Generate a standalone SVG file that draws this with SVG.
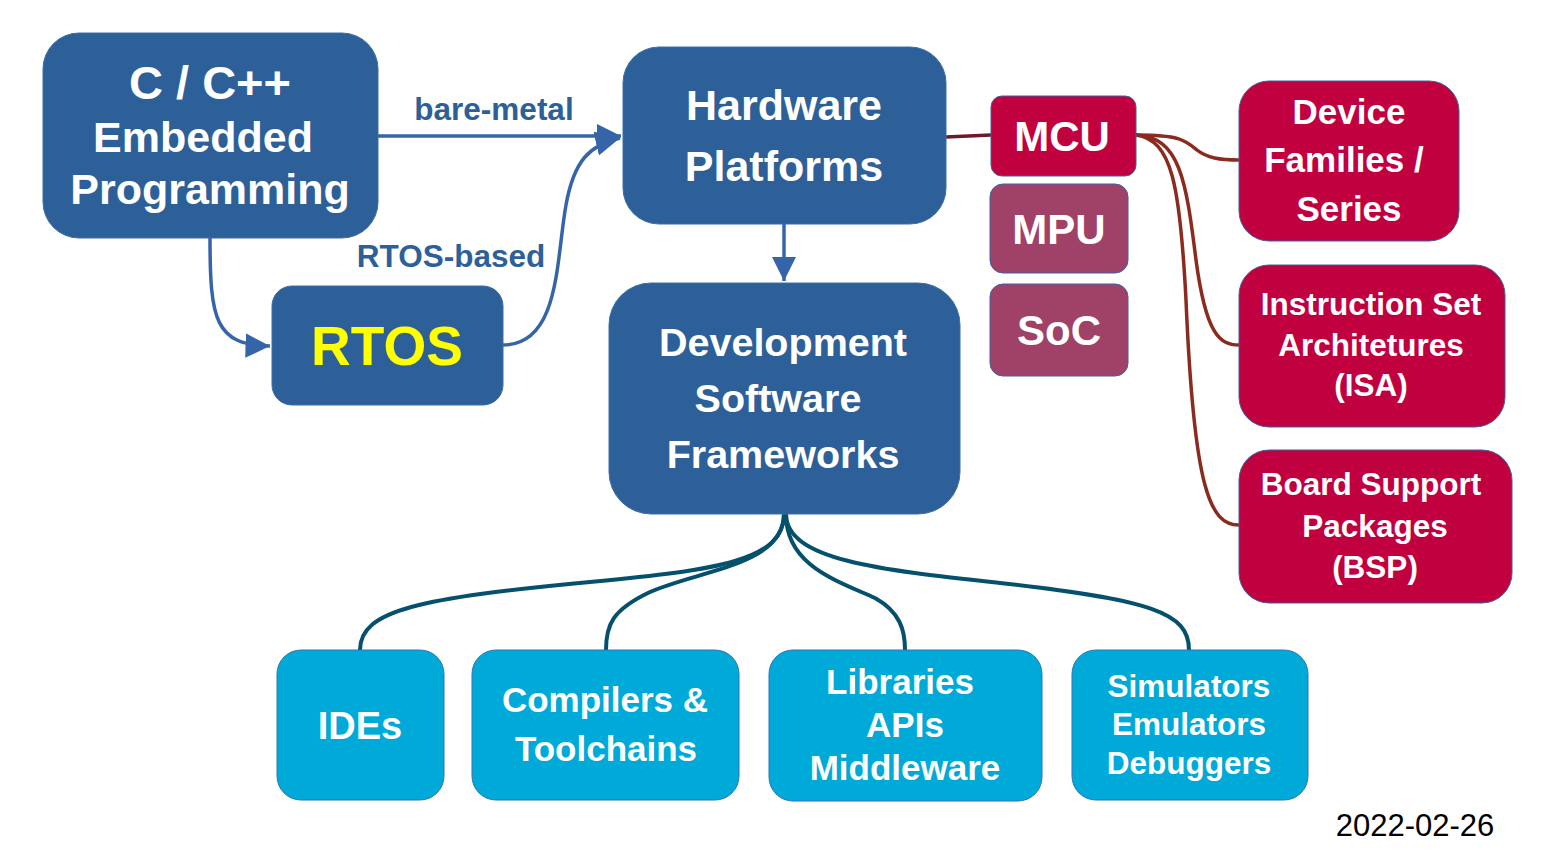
<svg xmlns="http://www.w3.org/2000/svg" width="1555" height="860" viewBox="0 0 1555 860">
  <defs>
    <style>
      .t { font-family: "Liberation Sans", Arial, sans-serif; font-weight: bold; text-anchor: middle; fill: #ffffff; }
      .blue { fill: #2d6099; stroke: #3a6ea8; stroke-width: 1; }
      .red { fill: #c0003f; stroke: #3f62a0; stroke-width: 1; }
      .plum { fill: #a04168; stroke: #3f62a0; stroke-width: 1; }
      .cyan { fill: #00aad8; stroke: #2f74b5; stroke-width: 1; }
      .lbl { font-family: "Liberation Sans", Arial, sans-serif; font-weight: bold; text-anchor: middle; fill: #2d6099; }
      .arr { fill: none; stroke: #3565a8; stroke-width: 3.5; }
      .mcu { fill: none; stroke: #8b2a1e; stroke-width: 3.5; }
      .sw { fill: none; stroke: #05506c; stroke-width: 4; }
    </style>
    <marker id="ah" viewBox="0 0 10 10" refX="10" refY="5" markerWidth="7" markerHeight="7" markerUnits="strokeWidth" orient="auto">
      <path d="M0,0 L10,5 L0,10 Z" fill="#3565a8"/>
    </marker>
  </defs>

  <rect width="1555" height="860" fill="#ffffff"/>

  <!-- connectors -->
  <g id="connectors">
    <path class="arr" d="M378,136 L621,136" marker-end="url(#ah)"/>
    <path class="arr" d="M503,345 C560,345 556,260 566,205 C574,160 590,145 620,138" marker-end="url(#ah)"/>
    <path class="arr" d="M210,238 C210,320 215,345 270,346" marker-end="url(#ah)"/>
    <path class="arr" d="M784,224 L784,281" marker-end="url(#ah)"/>
    <path d="M946,137 L991,135" fill="none" stroke="#6b1a2a" stroke-width="3.5"/>
    <path class="mcu" d="M1136,135 C1180,135 1185,140 1197,150 C1207,158 1220,160 1239,160"/>
    <path class="mcu" d="M1136,135 C1180,137 1186,180 1196,260 C1206,335 1220,345 1239,345"/>
    <path class="mcu" d="M1136,135 C1172,140 1180,185 1186,300 C1194,490 1210,525 1239,525"/>
    <path class="sw" d="M784,514 C784,560 720,570 590,582 C420,598 360,610 360,650"/>
    <path class="sw" d="M784,514 C784,565 700,570 650,592 C612,610 606,625 606,650"/>
    <path class="sw" d="M786,514 C786,565 835,580 875,598 C900,612 905,630 905,650" stroke="#33506e"/>
    <path class="sw" d="M786,514 C786,560 880,570 1000,583 C1150,600 1189,612 1189,650"/>
  </g>

  <g id="label-bare-metal"><text class="lbl" x="494" y="120" font-size="31.5">bare-metal</text></g>
  <g id="label-rtos-based"><text class="lbl" x="451" y="267" font-size="31.5">RTOS-based</text></g>

  <g id="node-cpp">
    <rect class="blue" x="43" y="33" width="335" height="205" rx="36"/>
    <text class="t" font-size="47" x="210" y="99">C / C++</text>
    <text class="t" font-size="43" x="203" y="152">Embedded</text>
    <text class="t" font-size="43" x="210" y="204">Programming</text>
  </g>

  <g id="node-hardware">
    <rect class="blue" x="623" y="47" width="323" height="177" rx="36"/>
    <text class="t" font-size="43" x="784" y="120">Hardware</text>
    <text class="t" font-size="43" x="784" y="181">Platforms</text>
  </g>

  <g id="node-rtos">
    <rect class="blue" x="272" y="286" width="231" height="119" rx="20"/>
    <text class="t" font-size="55" x="387" y="365" style="fill:#ffff00">RTOS</text>
  </g>

  <g id="node-devsw">
    <rect class="blue" x="609" y="283" width="351" height="231" rx="42"/>
    <text class="t" font-size="39.5" x="783" y="356">Development</text>
    <text class="t" font-size="39.5" x="778" y="412">Software</text>
    <text class="t" font-size="39.5" x="783" y="468">Frameworks</text>
  </g>

  <g id="node-mcu">
    <rect class="red" x="991" y="96" width="145" height="80" rx="11"/>
    <text class="t" font-size="42" x="1062" y="151">MCU</text>
  </g>
  <g id="node-mpu">
    <rect class="plum" x="990" y="184" width="138" height="89" rx="13"/>
    <text class="t" font-size="42" x="1059" y="244">MPU</text>
  </g>
  <g id="node-soc">
    <rect class="plum" x="990" y="284" width="138" height="92" rx="13"/>
    <text class="t" font-size="42" x="1059" y="345">SoC</text>
  </g>

  <g id="node-families">
    <rect class="red" x="1239" y="81" width="220" height="160" rx="30"/>
    <text class="t" font-size="35" x="1349" y="124">Device</text>
    <text class="t" font-size="35" x="1344" y="172">Families /</text>
    <text class="t" font-size="35" x="1349" y="221">Series</text>
  </g>
  <g id="node-isa">
    <rect class="red" x="1239" y="265" width="266" height="162" rx="30"/>
    <text class="t" font-size="31.5" x="1371" y="315">Instruction Set</text>
    <text class="t" font-size="31.5" x="1371" y="356">Architetures</text>
    <text class="t" font-size="31.5" x="1371" y="396">(ISA)</text>
  </g>
  <g id="node-bsp">
    <rect class="red" x="1239" y="450" width="273" height="153" rx="30"/>
    <text class="t" font-size="31.5" x="1371" y="495">Board Support</text>
    <text class="t" font-size="31.5" x="1375" y="537">Packages</text>
    <text class="t" font-size="31.5" x="1375" y="578">(BSP)</text>
  </g>

  <g id="node-ides">
    <rect class="cyan" x="277" y="650" width="167" height="150" rx="24"/>
    <text class="t" font-size="38" x="360" y="739">IDEs</text>
  </g>
  <g id="node-compilers">
    <rect class="cyan" x="472" y="650" width="267" height="150" rx="24"/>
    <text class="t" font-size="35" x="605" y="712">Compilers &amp;</text>
    <text class="t" font-size="35" x="606" y="761">Toolchains</text>
  </g>
  <g id="node-libraries">
    <rect class="cyan" x="769" y="650" width="273" height="151" rx="24"/>
    <text class="t" font-size="35" x="900" y="694">Libraries</text>
    <text class="t" font-size="35" x="905" y="737">APIs</text>
    <text class="t" font-size="35" x="905" y="780">Middleware</text>
  </g>
  <g id="node-simulators">
    <rect class="cyan" x="1072" y="650" width="236" height="150" rx="24"/>
    <text class="t" font-size="31.5" x="1189" y="697">Simulators</text>
    <text class="t" font-size="31.5" x="1189" y="735">Emulators</text>
    <text class="t" font-size="31.5" x="1189" y="774">Debuggers</text>
  </g>

  <text x="1415" y="836" font-family="'Liberation Sans', Arial, sans-serif" font-size="31" text-anchor="middle" fill="#000000">2022-02-26</text>
</svg>
